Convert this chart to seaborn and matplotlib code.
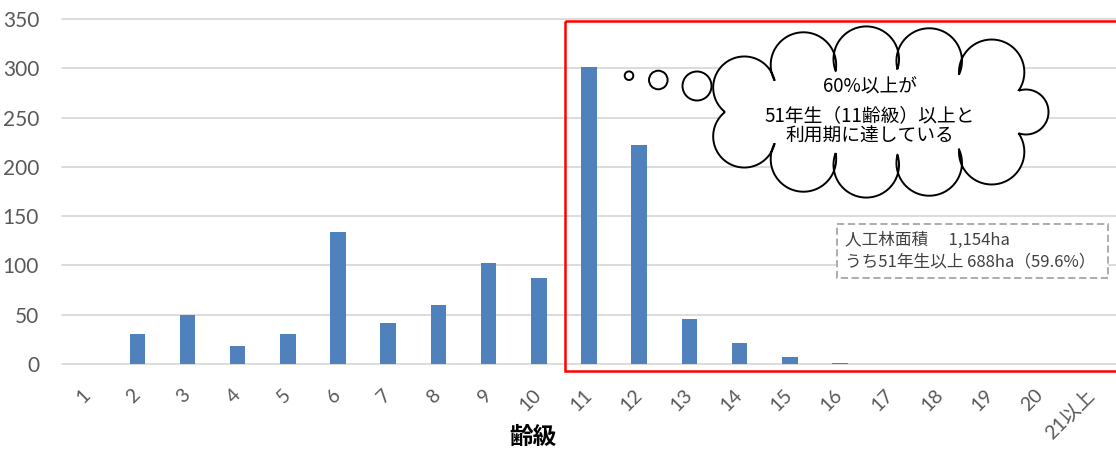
import numpy as np
import pandas as pd
import matplotlib
matplotlib.use("Agg")
import matplotlib.pyplot as plt
from matplotlib.patches import Circle, Rectangle, PathPatch
from matplotlib.path import Path
import seaborn as sns

# Planted forest area (ha) by age class
age_classes = [str(i) for i in range(1, 21)] + ["21以上"]
area_ha = [0, 30, 50, 18, 30, 134, 42, 60, 102, 87,
           301, 222, 46, 21, 7, 1, 0, 0, 0, 0, 0]
y_ticks = [0, 50, 100, 150, 200, 250, 300, 350]
x_title = "齢級"
bubble_head = "60%以上が"
bubble_body = "51年生（11齢級）以上と\n利用期に達している"
note_lines = ["人工林面積　 1,154ha", "うち51年生以上 688ha（59.6%）"]

BAR_COLOR = "#4f81bd"
GRID_COLOR = "#d9d9d9"
TICK_COLOR = "#595959"

sns.set_theme(style="white")
plt.rcParams["font.family"] = ["Lato", "Noto Sans CJK JP"]

W, H = 1116, 450
fig = plt.figure(figsize=(W / 100, H / 100), dpi=100)
ax = fig.add_axes([62 / W, 86 / H, 1054 / W, 345 / H])

df = pd.DataFrame({"age_class": age_classes, "area": area_ha})
sns.barplot(data=df, x="age_class", y="area", order=age_classes,
            color=BAR_COLOR, saturation=1, width=0.31, linewidth=0, ax=ax)

ax.set_xlim(-0.5, len(age_classes) - 0.5)
ax.set_ylim(0, 350)
ax.set_yticks(y_ticks)
ax.yaxis.grid(True, color=GRID_COLOR, linewidth=1.3)
ax.xaxis.grid(False)
ax.set_axisbelow(True)
for gl in ax.get_ygridlines():
    gl.set_clip_on(False)
for s in ax.spines.values():
    s.set_visible(False)

ax.tick_params(axis="y", length=0, pad=16.5, labelsize=15, labelcolor=TICK_COLOR)
ax.tick_params(axis="x", length=0, pad=20, labelsize=14, labelcolor=TICK_COLOR)
for lab in ax.get_xticklabels():
    lab.set_rotation(45)
    lab.set_ha("right")
    lab.set_va("center")
    lab.set_rotation_mode("anchor")

ax.set_ylabel("")
ax.set_xlabel(x_title, fontsize=17, color="#000000", fontweight="bold")
ax.xaxis.set_label_coords((533 - 62) / 1054, (364 - 436) / 345)
ax.xaxis.label.set_va("center")

# Pixel-space overlay for the callouts
ov = fig.add_axes([0, 0, 1, 1], zorder=5)
ov.set_xlim(0, W)
ov.set_ylim(H, 0)
ov.axis("off")
ov.patch.set_alpha(0)

# Highlight frame around age classes 11+
ov.add_patch(Rectangle((564.5, 21), 600, 350, fill=False,
                       edgecolor="#ff0000", linewidth=1.8))


def cloud_path(cx, cy, a, b, n, k=0.53, phase=0.5):
    t = np.linspace(0, 2 * np.pi, 4001)
    ex, ey = a * np.cos(t), b * np.sin(t)
    s = np.concatenate([[0], np.cumsum(np.hypot(np.diff(ex), np.diff(ey)))])
    stops = (np.arange(n) + phase) / n * s[-1]
    tt = np.interp(stops, s, t)
    pts = np.column_stack([cx + a * np.cos(tt), cy + b * np.sin(tt)])
    verts = []
    for i in range(n):
        p0, p1 = pts[i], pts[(i + 1) % n]
        d = p1 - p0
        L = np.hypot(*d)
        R = k * L
        h = np.sqrt(R ** 2 - (L / 2) ** 2)
        nrm = np.array([d[1], -d[0]]) / L
        c = (p0 + p1) / 2 + nrm * h
        a0 = np.arctan2(p0[1] - c[1], p0[0] - c[0])
        a1 = np.arctan2(p1[1] - c[1], p1[0] - c[0])
        if a1 <= a0:
            a1 += 2 * np.pi
        ang = np.linspace(a0, a1, 60)
        verts.append(c + R * np.column_stack([np.cos(ang), np.sin(ang)]))
    verts = np.vstack(verts)
    verts = np.vstack([verts, verts[:1]])
    codes = [Path.MOVETO] + [Path.LINETO] * (len(verts) - 2) + [Path.CLOSEPOLY]
    return Path(verts, codes)


ov.add_patch(PathPatch(cloud_path(882, 112, 157, 43, 11), facecolor="white",
                       edgecolor="black", linewidth=1.4, zorder=3))
for (x, y, r) in [(629, 75.7, 4.3), (658.3, 80, 9.3), (697, 86, 14.5)]:
    ov.add_patch(Circle((x, y), r, facecolor="white", edgecolor="black",
                        linewidth=1.4, zorder=3))

ov.text(870, 86.7, bubble_head, ha="center", va="center", fontsize=13.5,
        color="black", family=["Noto Sans CJK JP"], zorder=4)
ov.text(870, 126, bubble_body, ha="center", va="center", fontsize=13.5,
        linespacing=0.95, color="black", family=["Noto Sans CJK JP"], zorder=4)

# Summary note box
ov.add_patch(Rectangle((836.7, 224.3), 271.3, 54, facecolor="white",
                       edgecolor="#a6a6a6", linewidth=1.3,
                       linestyle=(0, (4, 2)), zorder=3))
ov.text(845, 251, "\n".join(note_lines), ha="left", va="center", fontsize=12,
        linespacing=1.3, color="#404040", family=["Noto Sans CJK JP"], zorder=4)

fig.savefig("out.png", dpi=100)
